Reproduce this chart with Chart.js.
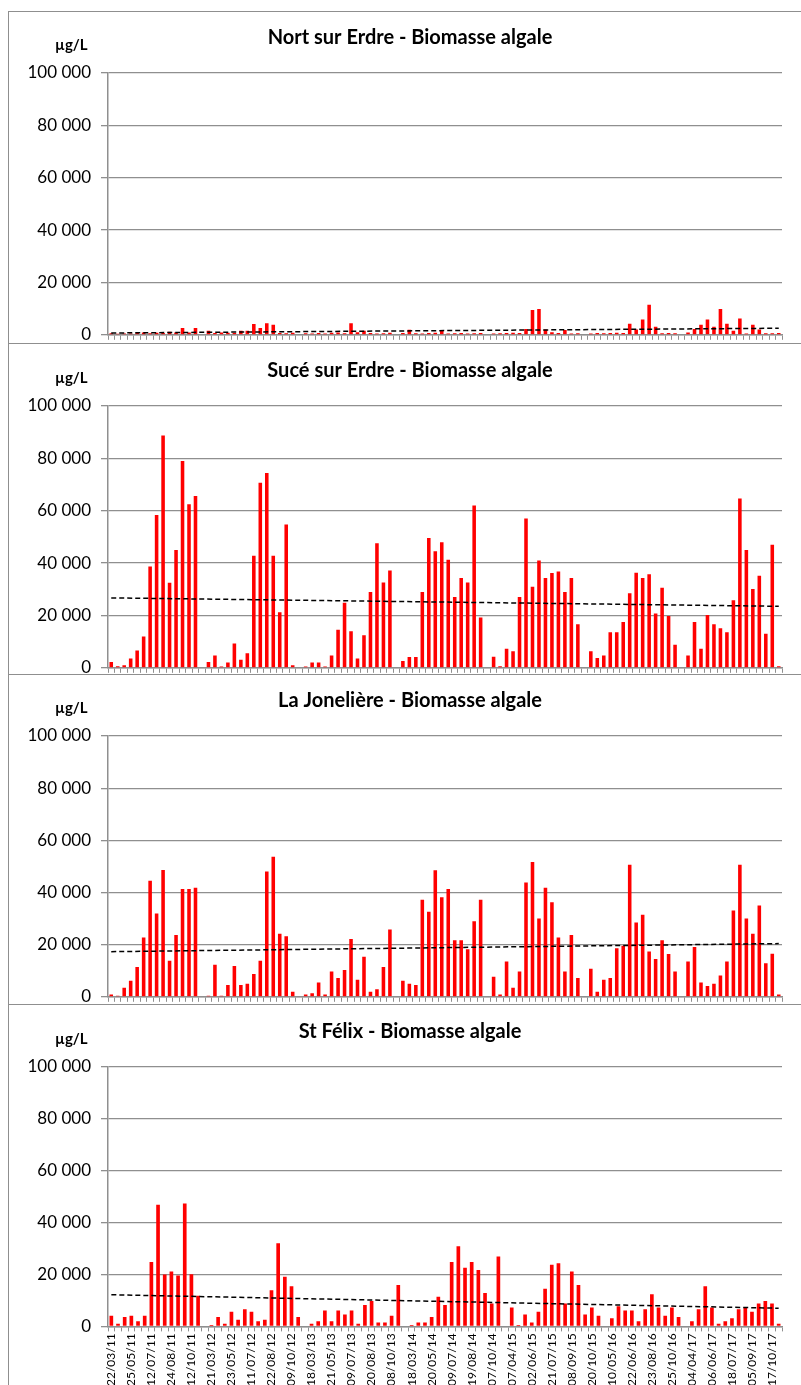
<!DOCTYPE html>
<html>
  <head>
    <meta charset="UTF-8">
    <title>Biomasse algale</title>
    <script src="https://cdn.jsdelivr.net/npm/chart.js@4.4.1/dist/chart.umd.min.js"></script>
    <style>
      body { margin: 0; background: #fff; width: 801px; height: 1385px; overflow: hidden; position: relative; }
      .frame { position: absolute; left: 8px; width: 810px; border: 1.5px solid #8f8f8f; box-sizing: border-box; }
      canvas { position: absolute; left: 9px; }
    </style>
  </head>
  <body>
    <div class="frame" style="top:11px;height:333px"></div>
    <div class="frame" style="top:343px;height:332px"></div>
    <div class="frame" style="top:674px;height:331px"></div>
    <div class="frame" style="top:1004px;height:400px"></div>
    <canvas id="c1" width="792" height="343" style="top:12px"></canvas>
    <canvas id="c2" width="792" height="344" style="top:344px"></canvas>
    <canvas id="c3" width="792" height="342" style="top:675px"></canvas>
    <canvas id="c4" width="792" height="383" style="top:1005px"></canvas>
  </body>
  <script>
    // dates shown under the last chart (one every 3 samples)
    const stFelixDates = ['22/03/11','25/05/11','12/07/11','24/08/11','12/10/11','21/03/12','23/05/12','11/07/12',
      '22/08/12','09/10/12','18/03/13','21/05/13','09/07/13','20/08/13','08/10/13','18/03/14','20/05/14','09/07/14',
      '19/08/14','07/10/14','07/04/15','02/06/15','21/07/15','08/09/15','20/10/15','10/05/16','22/06/16','23/08/16',
      '25/10/16','04/04/17','06/06/17','18/07/17','05/09/17','17/10/17'];

    const nortValues = [600, 400, 500, 500, 700, 900, 600, 800, 700, 1200, 900, 2600, 900, 2600, null,
      1500, 700, 900, 800, 700, 1500, 1500, 4100, 2600, 4400, 3800, 700, 600, 800, null,
      600, 500, 700, 500, 800, 900, 600, 4400, 1000, 1500, 700, 500, 600, 800, null,
      700, 1900, 600, 500, 700, 800, 1500, 500, 600, 700, 500, 600, 700, null,
      500, 600, 700, 800, 700, 2200, 9500, 9900, 2000, 1000, 700, 1800, 500, 600, null,
      500, 700, 600, 700, 800, 700, 4200, 2000, 5800, 11500, 3100, 600, 700, 600, null,
      900, 2200, 3800, 5800, 3100, 9900, 4200, 1500, 6200, 500, 3800, 2000, 600, 600, 700];

    const suceValues = [2200, 600, 1000, 3600, 6600, 12000, 38700, 58400, 88700, 32500, 45000, 79000, 62500, 65600, null,
      2200, 4700, 500, 2000, 9300, 3100, 5600, 42800, 70700, 74400, 42800, 21200, 54700, 1000, null,
      500, 2000, 2000, 500, 4700, 14500, 24800, 14000, 3600, 12400, 29000, 47600, 32600, 37200, null,
      2600, 4100, 4100, 29000, 49600, 44500, 48000, 41300, 27000, 34300, 32600, 62000, 19200, null,
      4200, 600, 7300, 6300, 27000, 57000, 31000, 41000, 34300, 36200, 36800, 29000, 34300, 16600, null,
      6300, 3700, 4700, 13600, 13600, 17500, 28500, 36300, 34300, 35700, 20700, 30600, 19800, 8800, null,
      4700, 17500, 7300, 20200, 16600, 15100, 13600, 25800, 64700, 45000, 30100, 35200, 13000, 47000, 600];

    const jonelValues = [900, 400, 3500, 6200, 11400, 22700, 44500, 31900, 48600, 13800, 23700, 41300, 41300, 41800, null,
      400, 12300, 400, 4500, 11800, 4500, 5000, 8700, 13800, 48000, 53700, 24200, 23200, 1900, null,
      900, 1400, 5500, 900, 9700, 7200, 10300, 22200, 6500, 15400, 1900, 2900, 11400, 25800, null,
      6200, 5000, 4500, 37200, 32600, 48500, 38200, 41300, 21700, 21700, 18200, 29000, 37200, null,
      7700, 900, 13500, 3500, 9700, 43800, 51700, 30000, 41800, 36300, 22700, 9700, 23700, 7200, null,
      10800, 1900, 6500, 7200, 18600, 19600, 50600, 28500, 31500, 17400, 14500, 21700, 16400, 9700, null,
      13500, 19100, 5500, 4100, 5000, 8200, 13500, 33100, 50600, 30000, 24200, 35000, 12900, 16500, 900];

    const stFelixValues = [4100, 1000, 3600, 4100, 2000, 4100, 24800, 46900, 20000, 21200, 19600, 47400, 20100, 11800, null,
      500, 3600, 1000, 5600, 2600, 6600, 5600, 2000, 2600, 13900, 32100, 19100, 15500, 3600, null,
      1000, 2000, 6100, 2000, 6100, 4600, 6100, 1000, 8200, 9800, 1500, 1500, 4100, 16000, null,
      500, 1500, 1500, 3600, 11400, 8200, 24800, 30900, 22600, 24800, 21700, 12900, 8800, 26900, null,
      7300, 500, 4600, 1500, 5600, 14500, 23800, 24300, 8800, 21200, 16000, 4600, 7300, 4100, null,
      3100, 7800, 6100, 6100, 2000, 6600, 12400, 7300, 4100, 7300, 3600, null,
      2000, 6600, 15500, 7300, 1000, 2000, 3100, 6600, 7300, 5600, 8800, 9800, 8800, 1000];

    // trend line, value at first and last sample
    const nortTrend = [700, 2500];
    const suceTrend = [26700, 23500];
    const jonelTrend = [17300, 20400];
    const stFelixTrend = [12200, 7000];

    const yTicks = [0, 20000, 40000, 60000, 80000, 100000];

    Chart.defaults.font.family = 'Lato';
    Chart.defaults.color = '#000';

    const panelText = {
      id: 'panelText',
      afterDraw(chart, args, opts) {
        const ctx = chart.ctx;
        const top = chart.chartArea.top;
        ctx.save();
        ctx.fillStyle = '#000';
        ctx.textAlign = 'center';
        ctx.font = 'bold 20px Lato';
        ctx.fillText(opts.title, 401, top - 29);
        ctx.textAlign = 'left';
        ctx.font = 'bold 15px Lato';
        ctx.fillText('µg/L', 46, top - 23);
        ctx.restore();
      }
    };

    function fmt(v) {
      return String(v).replace(/\B(?=(\d{3})+(?!\d))/g, ' ');
    }

    function makePanel(id, title, values, trend, labels, top) {
      const canvas = document.getElementById(id);
      const trendData = values.map(() => null);
      trendData[0] = trend[0];
      trendData[values.length - 1] = trend[1];
      const showLabels = labels.some(l => l !== '');
      new Chart(canvas, {
        type: 'bar',
        data: {
          labels: labels,
          datasets: [{
            type: 'line',
            data: trendData,
            borderColor: '#000',
            borderWidth: 1.5,
            borderDash: [5, 3],
            pointRadius: 0,
            spanGaps: true,
            order: 0
          }, {
            data: values,
            backgroundColor: '#ff0000',
            barPercentage: 0.55,
            categoryPercentage: 1,
            order: 1
          }]
        },
        options: {
          responsive: false,
          animation: false,
          layout: { padding: { left: 0, right: 19, top: top, bottom: 0 } },
          plugins: {
            legend: { display: false },
            tooltip: { enabled: false },
            panelText: { title: title }
          },
          scales: {
            x: {
              grid: { drawOnChartArea: false, color: '#8f8f8f', lineWidth: 1, tickLength: 5 },
              border: { color: '#8f8f8f', width: 1.5 },
              ticks: {
                display: showLabels,
                autoSkip: false,
                minRotation: 90,
                maxRotation: 90,
                padding: 2,
                font: { size: 12 },
                color: '#000'
              }
            },
            y: {
              min: 0,
              max: 100000,
              afterFit: s => { s.width = 99; },
              afterBuildTicks: s => { s.ticks = yTicks.map(v => ({ value: v })); },
              grid: { color: '#8f8f8f', lineWidth: 1.3, tickLength: 7 },
              border: { color: '#8f8f8f', width: 1.5 },
              ticks: { callback: v => fmt(v), padding: 10, font: { size: 17 }, color: '#000' }
            }
          }
        },
        plugins: [panelText]
      });
    }

    const blank = n => Array.from({ length: n }, () => '');
    const stFelixLabels = stFelixValues.map((v, i) => (i % 3 === 0 ? stFelixDates[i / 3] : ''));

    makePanel('c1', 'Nort sur Erdre - Biomasse algale', nortValues, nortTrend, blank(nortValues.length), 61);
    makePanel('c2', 'Sucé sur Erdre - Biomasse algale', suceValues, suceTrend, blank(suceValues.length), 62);
    makePanel('c3', 'La Jonelière - Biomasse algale', jonelValues, jonelTrend, blank(jonelValues.length), 61);
    makePanel('c4', 'St Félix - Biomasse algale', stFelixValues, stFelixTrend, stFelixLabels, 62);
  </script>
</html>
